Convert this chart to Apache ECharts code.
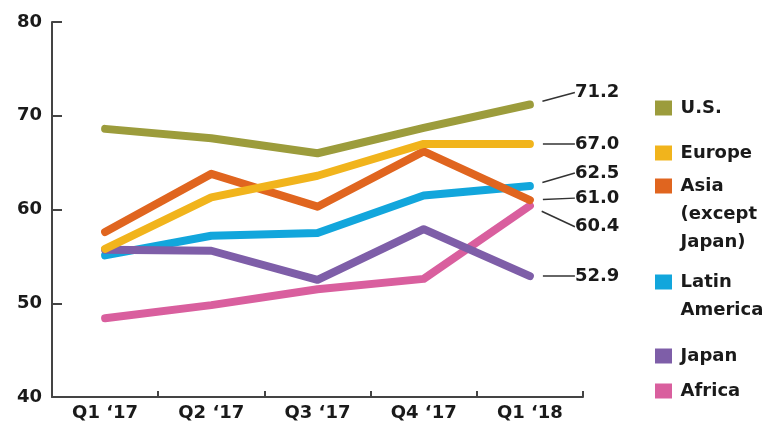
<!DOCTYPE html>
<html><head><meta charset="utf-8">
<script src="https://cdn.jsdelivr.net/npm/echarts@6/dist/echarts.min.js"></script>
<style>html,body{margin:0;padding:0;background:#fff}#c{width:772px;height:428px}</style>
</head><body><div id="c"></div>
<script>
const categories = ['Q1 \u201817', 'Q2 \u201817', 'Q3 \u201817', 'Q4 \u201817', 'Q1 \u201818'];
const yTicks = [40, 50, 60, 70, 80];
const seriesNames = ['U.S.', 'Europe', 'Asia (except Japan)', 'Latin America', 'Japan', 'Africa'];
const legendLines = [['U.S.'], ['Europe'], ['Asia', '(except', 'Japan)'], ['Latin', 'America'], ['Japan'], ['Africa']];
const usValues     = [68.6, 67.6, 66.0, 68.7, 71.2];
const europeValues = [55.8, 61.3, 63.6, 67.0, 67.0];
const asiaValues   = [57.6, 63.8, 60.3, 66.2, 61.0];
const latinValues  = [55.1, 57.2, 57.5, 61.5, 62.5];
const japanValues  = [55.7, 55.6, 52.5, 57.9, 52.9];
const africaValues = [48.4, 49.8, 51.5, 52.6, 60.4];

const allValues = [usValues, europeValues, asiaValues, latinValues, japanValues, africaValues];
const colors = ['#9c9c3c', '#f1b41c', '#e0651f', '#12a6dc', '#7e5ea8', '#d95f9e'];
const stackZ = [8, 7, 6, 4, 5, 3];
const labelDy = [-12, 0, -2, -13, 0, 21];
const legendCenters = [108, 153, 186, 282, 356, 391];
const LH = 28;
const FONT = 'DejaVu Sans';

const series = seriesNames.map((name, i) => {
  const vals = allValues[i];
  const data = vals.map((v, j) => {
    if (j < vals.length - 1) return v;
    return {
      value: v,
      symbol: 'circle',
      symbolSize: 26,
      itemStyle: { color: 'rgba(0,0,0,0)', borderWidth: 0 },
      label: {
        show: true, position: 'right', distance: 27,
        padding: [0, 0, 0, 5],
        color: '#1a1a1a', fontFamily: FONT, fontSize: 18, fontWeight: 'bold',
        formatter: (p) => p.value.toFixed(1)
      },
      labelLine: { show: true, lineStyle: { color: '#333', width: 1.5 } }
    };
  });
  return {
    name, type: 'line', data,
    z: stackZ[i],
    color: colors[i],
    symbol: 'none',
    silent: true,
    animation: false,
    lineStyle: { width: 8, color: colors[i], cap: 'round', join: 'round' },
    labelLayout: { dy: labelDy[i] },
    labelLine: { show: true, lineStyle: { color: '#333', width: 1.5 } }
  };
});

const legends = seriesNames.map((name, i) => {
  const lines = legendLines[i];
  const extra = lines.length - 1;
  const text = '\n'.repeat(extra) + lines.map(s => '\u2009' + s).join('\n');
  const totalLines = lines.length + extra;
  return {
    data: [name],
    left: 655, top: legendCenters[i] - totalLines * LH / 2,
    padding: 0,
    icon: 'rect', itemWidth: 17, itemHeight: 15, itemGap: 8,
    selectedMode: false,
    formatter: () => text,
    textStyle: {
      fontFamily: FONT, fontSize: 18, fontWeight: 'bold', color: '#1a1a1a',
      lineHeight: LH
    }
  };
});

const chart = echarts.init(document.getElementById('c'), null, { renderer: 'canvas' });
chart.setOption({
  animation: false,
  backgroundColor: '#fff',
  grid: { left: 52, right: 189, top: 22, bottom: 31, containLabel: false },
  legend: legends,
  xAxis: {
    type: 'category', data: categories, boundaryGap: true,
    axisLine: { lineStyle: { color: '#444', width: 2 } },
    axisTick: { show: true, inside: true, length: 6, lineStyle: { color: '#444', width: 2 } },
    axisLabel: { margin: 7, color: '#1a1a1a', fontFamily: FONT, fontSize: 18, fontWeight: 'bold', interval: 0 },
    splitLine: { show: false }
  },
  yAxis: {
    type: 'value', min: yTicks[0], max: yTicks[yTicks.length - 1], interval: 10,
    axisLine: { show: true, lineStyle: { color: '#444', width: 2 } },
    axisTick: { show: true, inside: true, length: 10, lineStyle: { color: '#444', width: 2 } },
    axisLabel: { margin: 10, color: '#1a1a1a', fontFamily: FONT, fontSize: 18, fontWeight: 'bold' },
    splitLine: { show: false }
  },
  series
});
</script>
</body></html>
